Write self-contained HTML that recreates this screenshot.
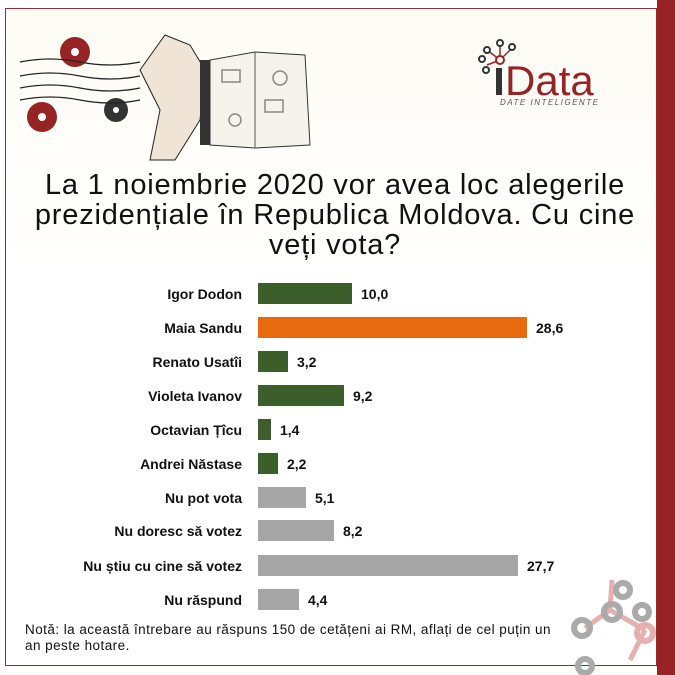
<!DOCTYPE html>
<html><head><meta charset="utf-8"><style>
body{margin:0;width:675px;height:675px;overflow:hidden;background:#fff;font-family:"Liberation Sans",Arial,sans-serif;position:relative}
.frame{position:absolute;left:5px;top:8px;width:650px;height:656px;border:1.5px solid #9b2a2a;background:linear-gradient(#fdfbf3,#fff 40%)}
.stripe{position:absolute;left:657px;top:0;width:18px;height:675px;background:#962424}
.title{position:absolute;left:10px;width:650px;top:170px;text-align:center;font-size:29px;letter-spacing:0.8px;line-height:30px;color:#111;white-space:nowrap}
.lbl{position:absolute;width:242px;left:0;text-align:right;font-weight:bold;font-size:14px;color:#111}
.bar{position:absolute;left:258px;height:21px}
.val{position:absolute;font-weight:bold;font-size:14px;color:#111}
.note{position:absolute;left:25px;top:622px;font-size:13.5px;letter-spacing:0.45px;line-height:16px;color:#111;white-space:nowrap}
</style></head><body>
<div class="frame"></div>
<div class="stripe"></div>
<svg width="675" height="675" style="position:absolute;left:0;top:0">
<circle cx="75" cy="52" r="15" fill="#962424"/><circle cx="75" cy="52" r="4" fill="#fff"/>
<circle cx="42" cy="117" r="15" fill="#962424"/><circle cx="42" cy="117" r="4" fill="#fff"/>
<circle cx="116" cy="110" r="12" fill="#333"/><circle cx="116" cy="110" r="3" fill="#fff"/>
<g stroke="#222" fill="none" stroke-width="1.3"><path d="M20 62q30 -6 60 0t60 0"/><path d="M20 76q30 -6 60 0t60 0"/><path d="M20 88q30 -6 60 0t60 0"/><path d="M20 100q30 -6 60 0t60 0"/></g>
<path d="M140 70 L165 35 L190 45 L205 70 L200 120 L175 160 L150 160 L160 110 Z" fill="#f0e4d6" stroke="#222"/>
<rect x="200" y="60" width="20" height="85" fill="#333"/>
<path d="M210 60 L255 52 L305 55 L310 145 L255 148 L210 145Z" fill="#f6f3ec" stroke="#333"/>
<line x1="255" y1="52" x2="255" y2="148" stroke="#555"/>
<g stroke="#888" fill="none" stroke-width="1.5"><circle cx="235" cy="120" r="6"/><circle cx="280" cy="78" r="7"/><rect x="265" y="100" width="18" height="12"/><rect x="222" y="70" width="18" height="12"/></g>
<g stroke="#962424" stroke-width="1.5"><line x1="487" y1="50" x2="500" y2="60"/><line x1="500" y1="45" x2="500" y2="60"/><line x1="512" y1="48" x2="500" y2="60"/><line x1="487" y1="65" x2="500" y2="60"/></g>
<g fill="#fff" stroke="#333" stroke-width="2"><circle cx="487" cy="50" r="3"/><circle cx="500" cy="43" r="3"/><circle cx="512" cy="47" r="3"/><circle cx="482" cy="59" r="3"/><circle cx="486" cy="70" r="3"/></g>
<circle cx="500" cy="60" r="4" fill="#fff" stroke="#962424" stroke-width="2"/>
<rect x="496" y="68" width="6" height="27" fill="#333"/>
<text x="505" y="95" font-size="42" fill="#962424" font-family="Liberation Sans">Data</text>
<text x="500" y="105" font-size="8" fill="#555" font-style="italic" letter-spacing="1.5">DATE INTELIGENTE</text>
<g stroke="#e4b0b0" stroke-width="5"><line x1="610" y1="610" x2="585" y2="628"/><line x1="610" y1="610" x2="645" y2="630"/><line x1="610" y1="610" x2="612" y2="580"/><line x1="645" y1="630" x2="630" y2="660"/></g>
<g fill="none" stroke="#aaa" stroke-width="6"><circle cx="623" cy="590" r="7"/><circle cx="612" cy="612" r="8"/><circle cx="642" cy="612" r="7"/><circle cx="582" cy="628" r="8"/><circle cx="585" cy="666" r="7"/></g>
<circle cx="645" cy="633" r="8" fill="none" stroke="#e4b0b0" stroke-width="6"/>
</svg>
<div class="title">La 1 noiembrie 2020 vor avea loc alegerile<br>prezidențiale în Republica Moldova. Cu cine<br>veți vota?</div>

<div class="lbl" style="top:286px">Igor Dodon</div><div class="bar" style="top:283px;width:94px;background:#3b5e2b"></div><div class="val" style="left:361px;top:286px">10,0</div>
<div class="lbl" style="top:320px">Maia Sandu</div><div class="bar" style="top:317px;width:269px;background:#e8690e"></div><div class="val" style="left:536px;top:320px">28,6</div>
<div class="lbl" style="top:354px">Renato Usatîi</div><div class="bar" style="top:351px;width:30px;background:#3b5e2b"></div><div class="val" style="left:297px;top:354px">3,2</div>
<div class="lbl" style="top:388px">Violeta Ivanov</div><div class="bar" style="top:385px;width:86px;background:#3b5e2b"></div><div class="val" style="left:353px;top:388px">9,2</div>
<div class="lbl" style="top:422px">Octavian Țîcu</div><div class="bar" style="top:419px;width:13px;background:#3b5e2b"></div><div class="val" style="left:280px;top:422px">1,4</div>
<div class="lbl" style="top:456px">Andrei Năstase</div><div class="bar" style="top:453px;width:20px;background:#3b5e2b"></div><div class="val" style="left:287px;top:456px">2,2</div>
<div class="lbl" style="top:490px">Nu pot vota</div><div class="bar" style="top:487px;width:48px;background:#a6a6a6"></div><div class="val" style="left:315px;top:490px">5,1</div>
<div class="lbl" style="top:523px">Nu doresc să votez</div><div class="bar" style="top:520px;width:76px;background:#a6a6a6"></div><div class="val" style="left:343px;top:523px">8,2</div>
<div class="lbl" style="top:558px">Nu știu cu cine să votez</div><div class="bar" style="top:555px;width:260px;background:#a6a6a6"></div><div class="val" style="left:527px;top:558px">27,7</div>
<div class="lbl" style="top:592px">Nu răspund</div><div class="bar" style="top:589px;width:41px;background:#a6a6a6"></div><div class="val" style="left:308px;top:592px">4,4</div>
<div class="note">Notă: la această întrebare au răspuns 150 de cetățeni ai RM, aflați de cel puțin un<br>an peste hotare.</div>
</body></html>
